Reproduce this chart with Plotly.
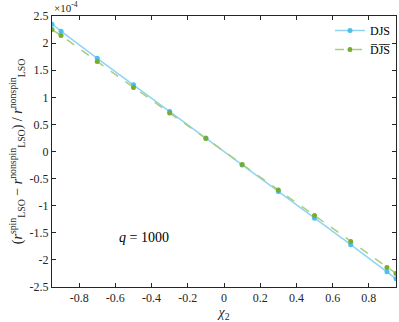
import plotly.graph_objects as go

# spin parameter of the secondary
chi2 = [-0.95, -0.9, -0.7, -0.5, -0.3, -0.1, 0.1, 0.3, 0.5, 0.7, 0.9, 0.95]

# relative LSO shift, in units of 1e-4
djs = [2.35, 2.22, 1.72, 1.23, 0.74, 0.25, -0.25, -0.74, -1.23, -1.72, -2.22, -2.35]
djs_bar = [2.25, 2.14, 1.66, 1.18, 0.71, 0.24, -0.24, -0.71, -1.18, -1.66, -2.14, -2.25]

xticks = [-0.8, -0.6, -0.4, -0.2, 0, 0.2, 0.4, 0.6, 0.8]
yticks = [-2.5, -2, -1.5, -1, -0.5, 0, 0.5, 1, 1.5, 2, 2.5]

font = "'Liberation Serif', 'Times New Roman', serif"
axis_col = "#262626"

fig = go.Figure()

fig.add_trace(go.Scatter(
    x=chi2, y=djs, name="DJS", mode="lines+markers",
    line=dict(color="#8fd4f3", width=1.5),
    marker=dict(color="#4dbeee", size=5),
))
fig.add_trace(go.Scatter(
    x=chi2, y=djs_bar, name="D\u0305J\u0305S\u0305", mode="lines+markers",
    line=dict(color="#a9cd7e", width=1.5, dash="dash"),
    marker=dict(color="#77ac30", size=5),
))

axis_style = dict(
    showline=True, linecolor=axis_col, linewidth=1, mirror="ticks",
    ticks="inside", ticklen=4, tickcolor=axis_col,
    showgrid=False, zeroline=False,
    tickfont=dict(family=font, size=12, color=axis_col),
)

fig.update_layout(
    width=399, height=322,
    margin=dict(l=52, r=3, t=16, b=35),
    paper_bgcolor="white", plot_bgcolor="white",
    font=dict(family=font, color=axis_col),
    xaxis=dict(
        range=[-0.95, 0.95], tickvals=xticks,
        ticktext=[f"{v:g}" for v in xticks],
        title=dict(text="<i>χ</i><sub>2</sub>", font=dict(size=14), standoff=0),
        **axis_style,
    ),
    yaxis=dict(
        range=[-2.5, 2.5], tickvals=yticks,
        ticktext=[f"{v:g}" for v in yticks],
        title=dict(
            text="(<i>r</i><sup>spin</sup><sub>LSO</sub> − <i>r</i><sup>nonspin</sup><sub>LSO</sub>)"
                 " / <i>r</i><sup>nonspin</sup><sub>LSO</sub>",
            font=dict(size=14), standoff=3,
        ),
        **axis_style,
    ),
    legend=dict(
        x=1.0, y=1.0, xanchor="right", yanchor="top",
        bgcolor="rgba(0,0,0,0)", borderwidth=0,
        font=dict(family=font, size=12, color="black"),
        itemwidth=30, tracegroupgap=0,
    ),
    showlegend=True,
)

fig.add_annotation(
    x=0, y=1, xref="paper", yref="paper", xanchor="left", yanchor="bottom",
    text="×10<sup>-4</sup>", showarrow=False,
    font=dict(family=font, size=11, color=axis_col),
)
fig.add_annotation(
    x=-0.44, y=-1.58, xref="x", yref="y",
    text="<i>q</i> = 1000", showarrow=False,
    font=dict(family=font, size=14, color="black"),
)

# drop the default page margin so the figure fits the window exactly
fig.write_html(
    "out.html",
    config={"displayModeBar": False},
    post_script="document.body.style.margin='0';document.body.style.overflow='hidden';",
)
